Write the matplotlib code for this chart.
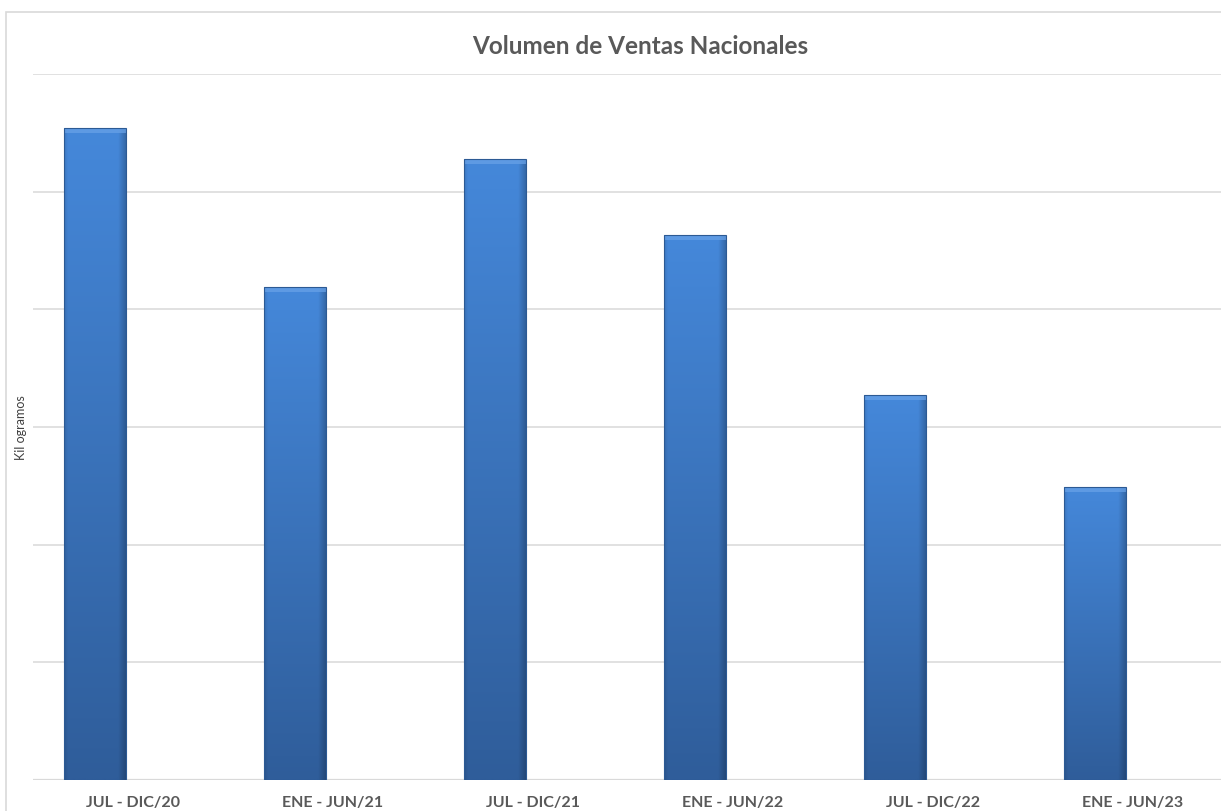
import numpy as np
import matplotlib
matplotlib.use("Agg")
import matplotlib.pyplot as plt
from matplotlib.patches import Rectangle
from matplotlib.colors import to_rgb

categories = ["JUL - DIC/20", "ENE - JUN/21", "JUL - DIC/21",
              "ENE - JUN/22", "JUL - DIC/22", "ENE - JUN/23"]
values = [5.54, 4.19, 5.275, 4.63, 3.27, 2.49]

title = "Volumen de Ventas Nacionales"
ylabel = "Kil ogramos"

W, H = 1221, 811
fig = plt.figure(figsize=(W / 100, H / 100), dpi=100)
fig.patch.set_facecolor("white")

# chart border (cropped on right/bottom in the reference)
fig.add_artist(Rectangle((6 / W, -0.1), 1.2, (811 - 12) / H + 0.1,
                         transform=fig.transFigure, fill=False,
                         edgecolor="#d9d9d9", linewidth=1.2))

ax = fig.add_axes([33 / W, (H - 780) / H, 1200 / W, (780 - 74) / H])
ax.set_xlim(-0.5, len(categories) - 0.5)
ax.set_ylim(0, 6)
ax.set_yticks(np.arange(0, 7, 1))
ax.yaxis.grid(True, color="#d9d9d9", linewidth=1.1)
ax.set_axisbelow(True)
for s in ax.spines.values():
    s.set_visible(False)
ax.tick_params(axis="y", left=False, labelleft=False)
ax.tick_params(axis="x", bottom=False, pad=8)
ax.axhline(0, color="#d9d9d9", linewidth=1.6, zorder=1)

x = np.arange(len(categories))
offset = -0.19
width = 0.31
bars = ax.bar(x + offset, values, width=width, color="#3f7fcf", zorder=2)

# gradient fill for each bar
top_c = np.array(to_rgb("#4588da"))
bot_c = np.array(to_rgb("#2f5d9a"))
ny, nx = 200, 60
ty = np.linspace(0, 1, ny)[:, None]  # 0 top -> 1 bottom
tx = np.linspace(0, 1, nx)[None, :]
base = top_c[None, None, :] * (1 - ty[..., None]) + bot_c[None, None, :] * ty[..., None]
shade = np.ones((1, nx))
shade = shade - 0.22 * np.clip((tx - 0.88) / 0.12, 0, 1) - 0.10 * np.clip((0.06 - tx) / 0.06, 0, 1)
img = np.clip(base * shade[..., None], 0, 1)

for b in bars:
    x0, y0 = b.get_x(), b.get_y()
    w, h = b.get_width(), b.get_height()
    im = ax.imshow(img, extent=(x0, x0 + w, y0, y0 + h), aspect="auto",
                   zorder=2.5, interpolation="bilinear")
    im.set_clip_path(b)
    # top bevel highlight
    bev = 0.04
    ax.add_patch(Rectangle((x0, y0 + h - bev), w, bev, facecolor="#6aa3e8",
                           edgecolor="none", zorder=2.6, alpha=0.7))
    ax.add_patch(Rectangle((x0, y0), w, h, fill=False, edgecolor="#2c5a94",
                           linewidth=0.8, zorder=2.7))

ax.set_xlim(-0.5, len(categories) - 0.5)
ax.set_ylim(0, 6)
ax.set_xticks(x)
ax.set_xticklabels(categories, fontfamily="Lato", fontweight="bold",
                   fontsize=11.5, color="#595959")

fig.text(640 / W, 1 - 46 / H, title, ha="center", va="center",
         fontfamily="Lato", fontweight="bold", fontsize=17.5, color="#595959")
fig.text(21 / W, 1 - 428 / H, ylabel, ha="center", va="center", rotation=90,
         fontfamily="Lato", fontsize=9, color="#404040")

fig.savefig("out.png", dpi=100, facecolor="white")
